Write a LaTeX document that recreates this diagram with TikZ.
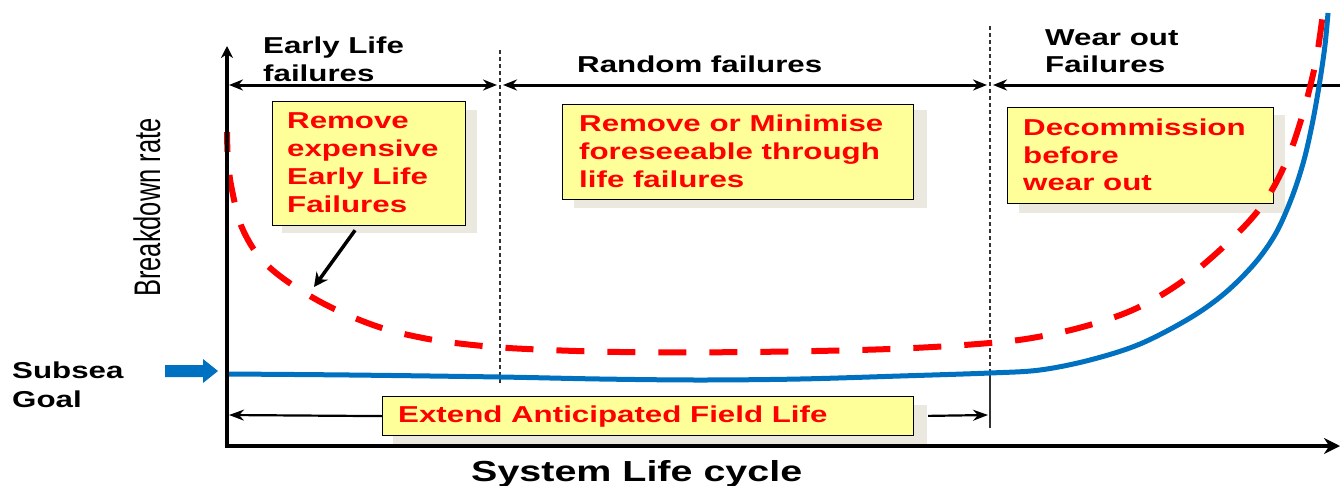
\documentclass[tikz,border=0pt]{standalone}
\usepackage{fontspec}
\setmainfont{Liberation Sans}
\newfontfamily\wf[FakeStretch=1.36]{Liberation Sans}
\usetikzlibrary{arrows.meta,calc}
\definecolor{boxyellow}{HTML}{FFFF99}
\definecolor{shadowgrey}{HTML}{EBE9DF}
\definecolor{goalblue}{HTML}{0070C0}
\definecolor{failred}{HTML}{FF0000}
\definecolor{sepgrey}{HTML}{333333}
\begin{document}
\begin{tikzpicture}[x=1pt,y=-1pt,
  bt/.style={font=\wf\bfseries\fontsize{23}{28}\selectfont, inner sep=0pt, anchor=base west, align=left},
  rt/.style={bt, text=failred},
  bigt/.style={font=\wf\bfseries\fontsize{29}{34}\selectfont, inner sep=0pt, anchor=base west},
  box/.style={draw=black, line width=1.2pt, fill=boxyellow, anchor=north west, inner sep=0pt},
  shadowbox/.style={fill=shadowgrey, anchor=north west, inner sep=0pt},
  span/.style={line width=3pt, {Stealth[length=14pt,width=11pt]}-{Stealth[length=14pt,width=11pt]}},
  ptr/.style={line width=2.2pt, -{Stealth[length=15pt,width=11pt]}},
  sep/.style={sepgrey, line width=1.3pt, dash pattern=on 4pt off 3pt},
  redcurve/.style={failred, line width=6pt, dash pattern=on 28pt off 23pt, dash phase=8pt},
  bluecurve/.style={goalblue, line width=5pt},
]
\useasboundingbox (0,0) rectangle (1340,485);

% separators
\coordinate (s1t) at (500,50);
\coordinate (s1b) at (500,383);
\coordinate (s2t) at (990,26);
\coordinate (s2m) at (990,372);
\coordinate (s2b) at (990,428);
\draw[sep] (s1t) -- (s1b);
\draw[sep] (s2t) -- (s2m);
\draw[sepgrey, line width=1.3pt] (s2m) -- (s2b);

% shadows
\node[shadowbox, minimum width=195pt, minimum height=123pt] (sh1) at (282,110) {};
\node[shadowbox, minimum width=353pt, minimum height=98pt] (sh2) at (574,110) {};
\node[shadowbox, minimum width=266pt, minimum height=98pt] (sh3) at (1019,115) {};
\node[shadowbox, minimum width=534pt, minimum height=40pt] (sh4) at (393,405) {};

% boxes
\node[box, minimum width=193pt, minimum height=124pt] (b1) at (272,101) {};
\node[box, minimum width=351pt, minimum height=95pt] (b2) at (562,104) {};
\node[box, minimum width=266pt, minimum height=96pt] (b3) at (1007,107) {};
\node[box, minimum width=531pt, minimum height=39pt] (b4) at (382,396) {};

% box texts
\node[rt] (t1a) at (287,128) {Remove};
\node[rt] (t1b) at (287,156) {expensive};
\node[rt] (t1c) at (287,184) {Early Life};
\node[rt] (t1d) at (287,212) {Failures};
\node[rt] (t2a) at (579,131) {Remove or Minimise};
\node[rt] (t2b) at (579,159) {foreseeable through};
\node[rt] (t2c) at (579,187) {life failures};
\node[rt] (t3a) at (1023,135) {Decommission};
\node[rt] (t3b) at (1023,163) {before};
\node[rt] (t3c) at (1023,190) {wear out};
\node[rt] (t4) at (398,422) {Extend Anticipated Field Life};

% header texts
\node[bt] (h1a) at (263,53) {Early Life};
\node[bt] (h1b) at (263,81) {failures};
\node[bt] (h2) at (577,72) {Random failures};
\node[bt] (h3a) at (1045,45) {Wear out};
\node[bt] (h3b) at (1045,72) {Failures};
\node[bt] (sg1) at (12,378) {Subsea};
\node[bt] (sg2) at (12,407) {Goal};
\node[bigt] (xl) at (471,481) {System Life cycle};
\node[rotate=90, anchor=base west, inner sep=0pt, font=\fontsize{25.5}{26}\selectfont] (yl) at (160,297) {\scalebox{1}[1.45]{Breakdown rate}};

% span arrows
\coordinate (a1l) at (229,85);
\coordinate (a1r) at (497,85);
\coordinate (a2l) at (503,85);
\coordinate (a2r) at (987,85);
\coordinate (a3l) at (993,85);
\coordinate (a3r) at (1350,85);
\draw[span] (a1l) -- (a1r);
\draw[span] (a2l) -- (a2r);
\draw[line width=3pt, {Stealth[length=14pt,width=11pt]}-] (a3l) -- (a3r);

% curves
\draw[redcurve] plot[smooth, tension=0.6] coordinates {
 (227,132) (228,160) (232,190) (243,230) (268,266) (317,300) (373,325) (423,338)
 (473,345) (527,349) (620,352) (750,352) (890,349) (990,343) (1043,336) (1093,324)
 (1137,308) (1180,283) (1220,250) (1252,218) (1272,190) (1289,155) (1301,120) (1310,87) (1317,55) (1323,13)};
\draw[bluecurve] plot[smooth, tension=0.55] coordinates {
 (227,374) (350,375) (500,377) (600,379) (700,380) (800,379) (900,376) (990,373)
 (1040,370) (1090,360) (1140,344) (1190,318) (1225,293) (1255,263)
 (1276,233) (1292,197) (1304,160) (1313,120) (1320,80) (1325,45) (1328,13)};

% axes
\coordinate (ytop) at (227,46);
\coordinate (orig) at (227,446);
\coordinate (xend) at (1340,446);
\draw[line width=4.5pt, {Stealth[length=12pt,width=12pt]}-{Stealth[length=16pt,width=16pt]}] (ytop) -- (orig) -- (xend);

% pointer from box 1
\coordinate (p1) at (314,287);
\draw[line width=3.5pt, -{Stealth[length=14pt,width=14pt]}, shorten <=5pt] ($(b1.south west)+(86,0)$) -- (p1);

% extend arrows
\coordinate (eL) at (229,415);
\coordinate (eR) at (988,415);
\draw[ptr] (b4.west) -- (eL);
\draw[ptr, shorten <=14pt] (b4.east) -- (eR);

% subsea goal arrow
\fill[goalblue] (165,365) -- (203,365) -- (203,359) -- (218,371) -- (203,383) -- (203,377) -- (165,377) -- cycle;
\end{tikzpicture}
\end{document}
